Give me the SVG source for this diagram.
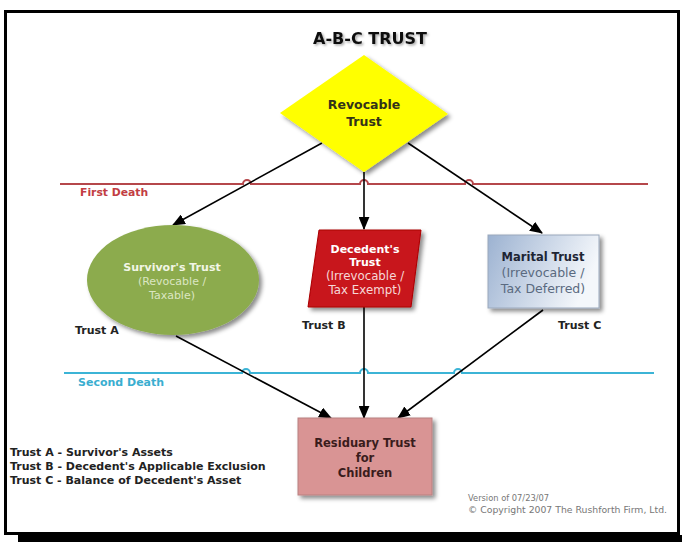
<svg xmlns="http://www.w3.org/2000/svg" width="682" height="542" viewBox="0 0 682 542">
<defs>
<style>
.t{font-family:"DejaVu Sans","Verdana",sans-serif;}
.b{font-weight:bold;}
.lbl{font-family:"DejaVu Sans",sans-serif;font-weight:bold;font-size:11px;fill:#222;}
.conn{stroke:#000;stroke-width:1.6;fill:none;marker-end:url(#ah);}
</style>
<marker id="ah" viewBox="0 0 12 10" refX="11" refY="5" markerWidth="13" markerHeight="11" markerUnits="userSpaceOnUse" orient="auto">
<path d="M0,0 L12,5 L0,10 z" fill="#000"/>
</marker>
<filter id="sh" x="-20%" y="-20%" width="150%" height="150%">
<feDropShadow dx="3" dy="3" stdDeviation="2.2" flood-color="#000" flood-opacity="0.45"/>
</filter>
<filter id="tsh" x="-10%" y="-30%" width="130%" height="180%">
<feDropShadow dx="1.5" dy="1.5" stdDeviation="1" flood-color="#000" flood-opacity="0.35"/>
</filter>
<linearGradient id="mg" x1="0" y1="0" x2="1" y2="0.3">
<stop offset="0" stop-color="#9cb2d1"/>
<stop offset="1" stop-color="#f4f7fb"/>
</linearGradient>
</defs>
<rect width="682" height="542" fill="#fff"/>
<rect x="18" y="535" width="664" height="7" fill="#000"/>
<rect x="5.5" y="11.5" width="673" height="522" fill="#fff" stroke="#000" stroke-width="3"/>

<text class="t b" x="370" y="44" font-size="16" text-anchor="middle" fill="#111" filter="url(#tsh)">A-B-C TRUST</text>

<g id="lines">
<path d="M60 184 H243 A4 4 0 0 1 251 184 H360 A4 4 0 0 1 368 184 H465 A4 4 0 0 1 473 184 H648" stroke="#b5474b" stroke-width="2" fill="none"/>
<text class="t b" x="80" y="196" font-size="10.8" fill="#c23d43">First Death</text>
<path d="M64 373 H242 A4 4 0 0 1 250 373 H360 A4 4 0 0 1 368 373 H454 A4 4 0 0 1 462 373 H654" stroke="#3cb4d6" stroke-width="2" fill="none"/>
<text class="t b" x="78" y="386" font-size="11" fill="#3aaed0">Second Death</text>
</g>

<g id="connectors">
<path class="conn" d="M322 143 L173 225"/>
<path class="conn" d="M364 172 L364 229"/>
<path class="conn" d="M408 143 L542 233"/>
<path class="conn" d="M176 336 L331 418"/>
<path class="conn" d="M364 307 L364 418"/>
<path class="conn" d="M543 310 L398 418"/>
</g>

<g id="revocable">
<polygon points="364,55 448,114 364,172 280,113" fill="#ffff00" filter="url(#sh)"/>
<text class="t b" x="364" y="109" font-size="12.5" text-anchor="middle" fill="#333318">Revocable</text>
<text class="t b" x="364" y="126" font-size="12.5" text-anchor="middle" fill="#333318">Trust</text>
</g>

<g id="survivor">
<ellipse cx="173" cy="280" rx="86" ry="55" fill="#8cab4e" filter="url(#sh)"/>
<text class="t b" x="172" y="271" font-size="11" text-anchor="middle" fill="#f2f6e6">Survivor's Trust</text>
<text class="t" x="172" y="285" font-size="11" text-anchor="middle" fill="#dbe6c2">(Revocable /</text>
<text class="t" x="172" y="299" font-size="11" text-anchor="middle" fill="#dbe6c2">Taxable)</text>
</g>

<g id="decedent">
<polygon points="319,230 421,230 411,307 308,307" fill="#c8121c" stroke="#a00" stroke-width="1" filter="url(#sh)"/>
<text class="t b" x="365" y="253" font-size="11" text-anchor="middle" fill="#fff">Decedent's</text>
<text class="t b" x="365" y="266" font-size="11" text-anchor="middle" fill="#fff">Trust</text>
<text class="t" x="365" y="280" font-size="11.8" text-anchor="middle" fill="#f6d8d8">(Irrevocable /</text>
<text class="t" x="365" y="294" font-size="11.8" text-anchor="middle" fill="#f6d8d8">Tax Exempt)</text>
</g>

<g id="marital">
<rect x="488" y="235" width="111" height="73" fill="url(#mg)" stroke="#9aa8bc" stroke-width="1" filter="url(#sh)"/>
<text class="t b" x="543" y="261" font-size="11.5" text-anchor="middle" fill="#1d2433">Marital Trust</text>
<text class="t" x="543" y="277" font-size="12.5" text-anchor="middle" fill="#5a6a80">(Irrevocable /</text>
<text class="t" x="543" y="293" font-size="12.5" text-anchor="middle" fill="#5a6a80">Tax Deferred)</text>
</g>

<g id="residuary">
<rect x="298" y="418" width="134" height="77" fill="#d99494" stroke="#b88080" stroke-width="1" filter="url(#sh)"/>
<text class="t b" x="365" y="447" font-size="11.5" text-anchor="middle" fill="#3a1c1c">Residuary Trust</text>
<text class="t b" x="365" y="462" font-size="11.5" text-anchor="middle" fill="#3a1c1c">for</text>
<text class="t b" x="365" y="477" font-size="11.5" text-anchor="middle" fill="#3a1c1c">Children</text>
</g>

<g id="labels">
<text class="lbl" x="75" y="334">Trust A</text>
<text class="lbl" x="302" y="329">Trust B</text>
<text class="lbl" x="558" y="329">Trust C</text>
<text class="lbl" x="10" y="456">Trust A - Survivor's Assets</text>
<text class="lbl" x="10" y="470">Trust B - Decedent's Applicable Exclusion</text>
<text class="lbl" x="10" y="484">Trust C - Balance of Decedent's Asset</text>
<text class="t" x="468" y="501" font-size="8.3" fill="#777">Version of 07/23/07</text>
<text class="t" x="468" y="513" font-size="8.3" fill="#777" textLength="199" lengthAdjust="spacingAndGlyphs">© Copyright 2007 The Rushforth Firm, Ltd.</text>
</g>
</svg>
